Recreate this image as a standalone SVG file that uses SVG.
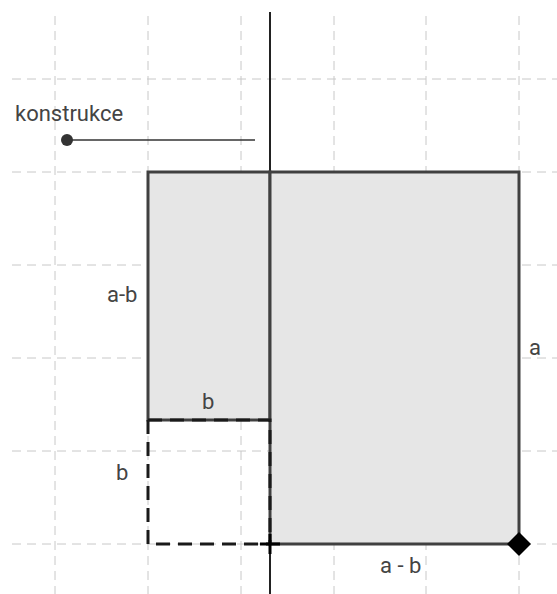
<svg xmlns="http://www.w3.org/2000/svg" width="557" height="594" viewBox="0 0 557 594">
<style>
.grid{stroke:#c8c8c8;stroke-width:1;stroke-dasharray:9,6;fill:none}
.poly{fill:#e6e6e6;stroke:#404040;stroke-width:3}
.dash{fill:none;stroke:#1a1a1a;stroke-width:3;stroke-dasharray:14,8}
.lbl{font-family:Roboto,"Liberation Sans",sans-serif;font-size:22px;fill:#444}
</style>
<rect width="557" height="594" fill="#fff"/>
<g id="grid">
<path class="grid" d="M55,16V594M148,16V594M241,16V594M334,16V594M426,16V594M519,16V594"/>
<path class="grid" d="M12,79H557M12,172H557M12,265H557M12,358H557M12,451H557M12,544H557"/>
</g>
<g id="axis"><line x1="270" y1="12" x2="270" y2="594" stroke="#222" stroke-width="2"/></g>
<g id="left-rect"><rect class="poly" x="148" y="172" width="122" height="248"/></g>
<g id="right-rect"><rect class="poly" x="270" y="172" width="249" height="372"/></g>
<g id="dashed-square"><path class="dash" d="M148,420V544H270M148,420H270V544"/></g>
<g id="slider">
<text class="lbl" x="15" y="121" fill="#555">konstrukce</text>
<line x1="67" y1="140" x2="255" y2="140" stroke="#333" stroke-width="1.5"/>
<circle cx="67" cy="140" r="6" fill="#333"/>
</g>
<g id="point-cross"><path d="M260,544H280M270,534V554" stroke="#000" stroke-width="3"/></g>
<g id="point-diamond"><polygon points="519,532 531,544 519,556 507,544" fill="#000"/></g>
<g id="labels">
<text class="lbl" x="107" y="302">a-b</text>
<text class="lbl" x="529" y="355">a</text>
<text class="lbl" x="202" y="409">b</text>
<text class="lbl" x="116" y="480">b</text>
<text class="lbl" x="380" y="573">a - b</text>
</g>
</svg>
